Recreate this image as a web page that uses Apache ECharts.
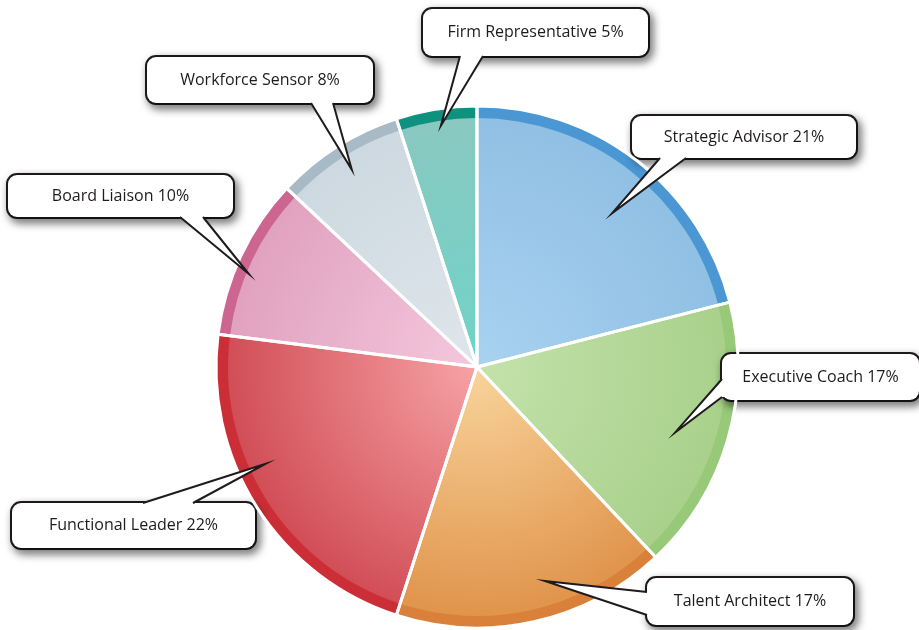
<!DOCTYPE html>
<html><head><meta charset="utf-8">
<script src="https://cdn.jsdelivr.net/npm/echarts@6/dist/echarts.min.js"></script>
<style>html,body{margin:0;padding:0;background:#fff}#c{width:919px;height:630px}</style>
</head><body><div id="c"></div>
<script>
// ---- data ----
const categories = ['Strategic Advisor','Executive Coach','Talent Architect','Functional Leader','Board Liaison','Workforce Sensor','Firm Representative'];
const shares = [21, 17, 17, 22, 10, 8, 5];

// ---- styles ----
const rimColors   = ['#4a97d3','#98c978','#d9813a','#cb2e36','#cc6590','#a7bac6','#0e917f'];
const innerColors = ['#a9d2f0','#c3e2ab','#f9d49c','#f6a3a6','#f4c8dd','#dfe6eb','#6fd3c8'];
const outerColors = ['#8fbfe4','#a8d08a','#df9148','#d04a53','#e0a0bd','#ccd8e0','#8ac8c0'];
const CX = 477, CY = 367, R = 261, RIN = 249;
// callout boxes: centre, size, pointer base side/offsets, tip angle offset (deg) & radius fraction
const callouts = [
  {x:744,   y:137,   w:224, h:42, side:'bottom', a:28,  b:54,  dAng:3.5,  f:0.785},
  {x:820.5, y:377,   w:197, h:46, side:'left',   a:25,  b:43,  dAng:2,    f:0.80},
  {x:750,   y:601.5, w:206, h:47, side:'left',   a:14,  b:37,  dAng:-5,   f:0.86},
  {x:133.5, y:525.5, w:243, h:45, side:'top',    a:131, b:181, dAng:7.8,  f:0.89},
  {x:120.5, y:196,   w:225, h:42, side:'bottom', a:172, b:195, dAng:-3,   f:0.945},
  {x:260,   y:80,    w:226, h:46, side:'bottom', a:164, b:186, dAng:0,    f:0.895},
  {x:535.5, y:32.5,  w:225, h:47, side:'bottom', a:37,  b:60,  dAng:0.5,  f:0.935}
];
const FONT = '"Open Sans", "Noto Sans", sans-serif';
const INK = '#1f1b1c';

const rimData = categories.map((n,i)=>({name:n, value:shares[i], itemStyle:{color:rimColors[i]}}));
const fillData = categories.map((n,i)=>({
  name:n, value:shares[i],
  itemStyle:{color:{type:'radial', x:CX, y:CY, r:R, global:true,
    colorStops:[{offset:0,color:innerColors[i]},{offset:1,color:outerColors[i]}]}},
  label:{width:callouts[i].w, height:callouts[i].h, lineHeight:callouts[i].h}
}));

const chart = echarts.init(document.getElementById('c'), null, {renderer:'canvas'});
chart.setOption({
  animation:false,
  backgroundColor:'#fff',
  series:[
    {type:'pie', radius:[0,R], center:[CX,CY], startAngle:90, clockwise:true, silent:true,
     label:{show:false}, labelLine:{show:false}, data:rimData, z:1},
    {type:'pie', radius:[0,RIN], center:[CX,CY], startAngle:90, clockwise:true, silent:true,
     data:fillData, z:2,
     label:{show:true, position:'outside', formatter:'{b} {c}%', color:INK, fontFamily:FONT, fontSize:16,
       backgroundColor:'#fff', borderColor:INK, borderWidth:2, borderRadius:9, padding:0, align:'center',
       shadowColor:'rgba(0,0,0,0.5)', shadowBlur:8, shadowOffsetX:3, shadowOffsetY:4},
     labelLine:{show:false},
     labelLayout:function(p){const c=callouts[p.dataIndex];return {x:c.x, y:c.y, align:'center', verticalAlign:'middle'};}
    },
    {type:'pie', radius:[0,R], center:[CX,CY], startAngle:90, clockwise:true, silent:true,
     label:{show:false}, labelLine:{show:false}, z:3,
     itemStyle:{color:'rgba(0,0,0,0)', borderColor:'#fff', borderWidth:3},
     data:categories.map((n,i)=>({name:n, value:shares[i]}))}
  ]
});

// speech-bubble pointers, derived from the library's pie layout
const dataO = chart.getModel().getSeriesByIndex(0).getData();
const gfx = [];
categories.forEach((n,i)=>{
  const L = dataO.getItemLayout(i);
  const mid = (L.startAngle + L.endAngle)/2 + callouts[i].dAng*Math.PI/180;
  const tip = [L.cx + L.r*callouts[i].f*Math.cos(mid), L.cy + L.r*callouts[i].f*Math.sin(mid)];
  const c = callouts[i];
  const left = c.x - c.w/2, top = c.y - c.h/2, bottom = c.y + c.h/2;
  let A, B, A2, B2;
  if (c.side==='bottom'){A=[left+c.a,bottom];B=[left+c.b,bottom];A2=[A[0],bottom-3];B2=[B[0],bottom-3];}
  else if (c.side==='top'){A=[left+c.a,top];B=[left+c.b,top];A2=[A[0],top+3];B2=[B[0],top+3];}
  else {A=[left,top+c.a];B=[left,top+c.b];A2=[left+3,A[1]];B2=[left+3,B[1]];}
  gfx.push({type:'polygon', z:100, silent:true, shape:{points:[A2,A,tip,B,B2]},
    style:{fill:'#fff', stroke:null}});
  gfx.push({type:'polyline', z:101, silent:true, shape:{points:[A,tip,B]},
    style:{stroke:INK, lineWidth:2, fill:null, lineJoin:'miter', miterLimit:20}});
});
chart.setOption({graphic:{elements:gfx}});
</script></body></html>
